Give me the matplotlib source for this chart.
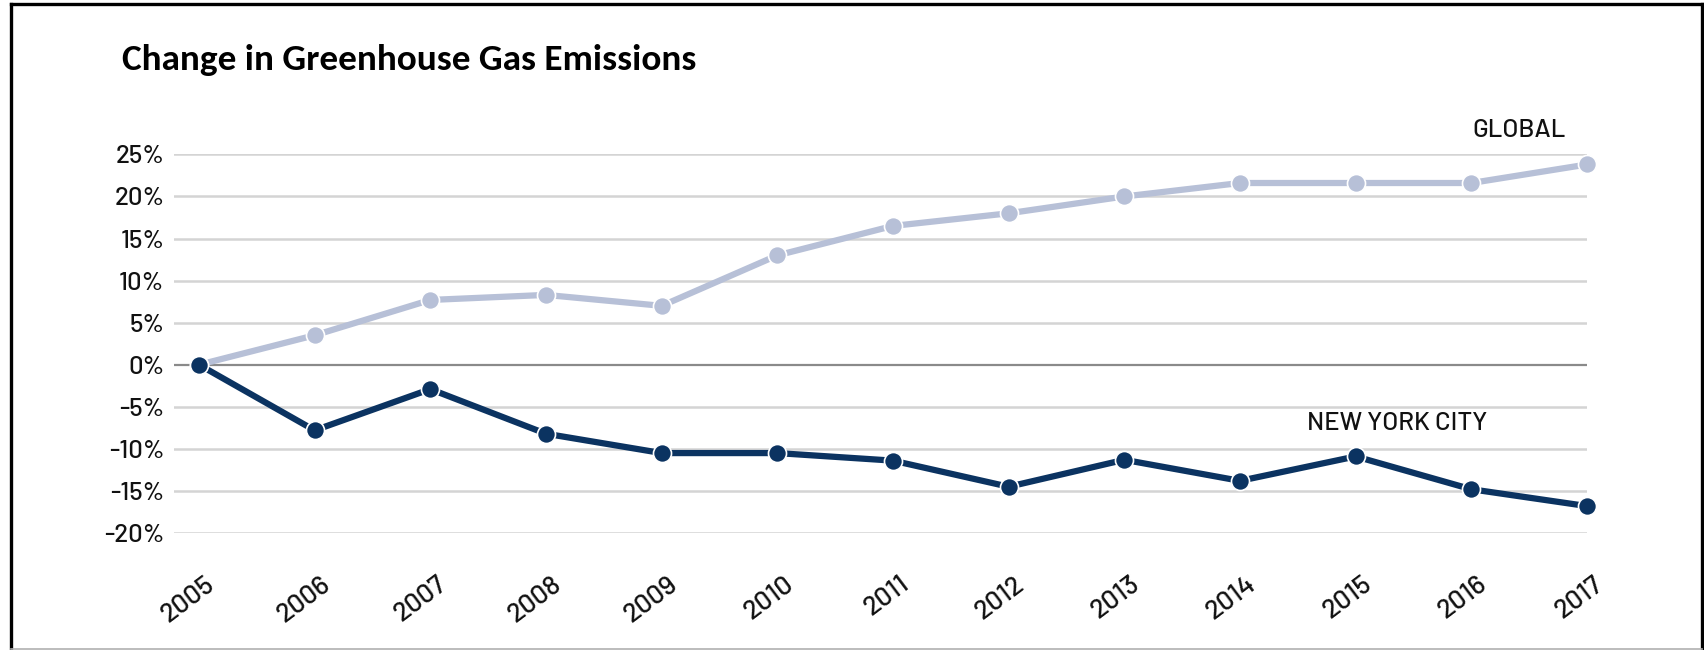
import matplotlib
matplotlib.use("Agg")
import matplotlib.pyplot as plt
from matplotlib.lines import Line2D
from matplotlib.transforms import ScaledTranslation

years = [2005, 2006, 2007, 2008, 2009, 2010, 2011, 2012, 2013, 2014, 2015, 2016, 2017]
global_change = [0.0, 3.5, 7.7, 8.3, 7.0, 13.0, 16.5, 18.0, 20.0, 21.6, 21.6, 21.6, 23.8]
nyc_change = [0.0, -7.8, -2.9, -8.2, -10.5, -10.5, -11.4, -14.5, -11.3, -13.8, -10.9, -14.8, -16.8]
y_ticks = [-20, -15, -10, -5, 0, 5, 10, 15, 20, 25]
y_tick_labels = [f"{v}%" for v in y_ticks]
title = "Change in Greenhouse Gas Emissions"
global_label = "GLOBAL"
nyc_label = "NEW YORK CITY"

W, H = 1704, 650
fig = plt.figure(figsize=(W / 100, H / 100), dpi=100)
fig.patch.set_facecolor("white")

left_px, right_px = 174, 1587
top_px, bot_px = 154.4, 533.0
ax = fig.add_axes([left_px / W, 1 - bot_px / H, (right_px - left_px) / W, (bot_px - top_px) / H])

x0_px = 199
px_per_year = (right_px - x0_px) / 12.0
ax.set_xlim(2005 - (x0_px - left_px) / px_per_year, 2017)
ax.set_ylim(-20, 25)

for s in ax.spines.values():
    s.set_visible(False)

for v in y_ticks:
    if v == 0:
        ax.axhline(v, color="#8a8a8a", lw=1.6, zorder=1)
    else:
        ax.axhline(v, color="#d4d4d4", lw=1.8, zorder=1)

tick_font = ["Barlow", "Roboto", "DejaVu Sans"]
title_font = ["Carlito", "Lato", "DejaVu Sans"]

ax.set_yticks(y_ticks)
ax.set_yticklabels(y_tick_labels, fontsize=18.5, family=tick_font, fontweight=500, color="#111111")
ax.set_xticks(years)
ax.set_xticklabels([str(y) for y in years], fontsize=19.5, family=tick_font, fontweight=500,
                   color="#111111", rotation=37, ha="right", va="top", rotation_mode="anchor")
ax.tick_params(axis="both", length=0)
ax.tick_params(axis="y", pad=7)
ax.tick_params(axis="x", pad=28)
shift = ScaledTranslation(6 / 100, 0, fig.dpi_scale_trans)
for lbl in ax.get_xticklabels():
    lbl.set_transform(lbl.get_transform() + shift)

ax.plot(years, global_change, color="#b7c0d7", lw=4.5, marker="o", markersize=13,
        markerfacecolor="#b7c0d7", markeredgecolor="white", markeredgewidth=1.2,
        zorder=3, clip_on=False, solid_joinstyle="round")
ax.plot(years, nyc_change, color="#0b3361", lw=4.5, marker="o", markersize=13,
        markerfacecolor="#0b3361", markeredgecolor="white", markeredgewidth=1.2,
        zorder=4, clip_on=False, solid_joinstyle="round")

ax.text(2016.41, 27.9, global_label, fontsize=18.5, family=tick_font, fontweight=500,
        color="#111111", ha="center", va="center")
ax.text(2015.36, -7.0, nyc_label, fontsize=18.5, family=tick_font, fontweight=500,
        color="#111111", ha="center", va="center")

fig.text(122 / W, 1 - 70 / H, title, fontsize=26.8, family=title_font, fontweight="bold",
         color="black", ha="left", va="baseline")

fig.add_artist(Line2D([11 / W, 11 / W], [1 - 649 / H, 1 - 4 / H], transform=fig.transFigure,
                      color="black", lw=2.4))
fig.add_artist(Line2D([11 / W, 1702 / W], [1 - 4 / H, 1 - 4 / H], transform=fig.transFigure,
                      color="black", lw=2.4))
fig.add_artist(Line2D([1702 / W, 1702 / W], [1 - 649 / H, 1 - 4 / H], transform=fig.transFigure,
                      color="black", lw=2.4))
fig.add_artist(Line2D([11 / W, 1702 / W], [1 - 649 / H, 1 - 649 / H], transform=fig.transFigure,
                      color="#b0b0b0", lw=1.2))

fig.savefig("out.png", dpi=100)
